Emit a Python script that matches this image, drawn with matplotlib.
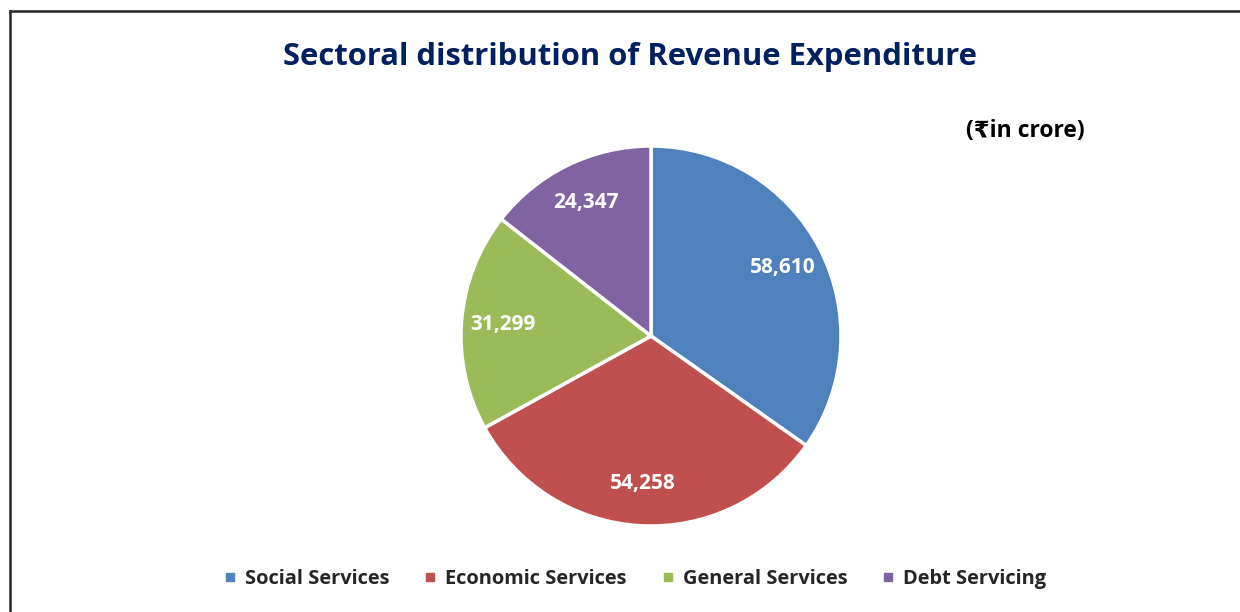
import matplotlib
matplotlib.use("Agg")
import matplotlib.pyplot as plt
from matplotlib.lines import Line2D
import numpy as np

sectors = ["Social Services", "Economic Services", "General Services", "Debt Servicing"]
spend = [58610, 54258, 31299, 24347]
colors = ["#4F81BD", "#C0504D", "#9BBB59", "#8064A2"]

plt.rcParams['font.family'] = ['Open Sans', 'DejaVu Sans']

fig = plt.figure(figsize=(12.4, 6.12), dpi=100)
fig.patch.set_facecolor("white")

# frame lines along the top and left edges
fig.add_artist(Line2D([10/1240, 10/1240], [0, 1 - 10.5/612], color="#262626", lw=1.8))
fig.add_artist(Line2D([10/1240, 1], [1 - 10.5/612, 1 - 10.5/612], color="#262626", lw=1.8))

fig.text(630/1240, 1 - 57/612, "Sectoral distribution of Revenue Expenditure",
         ha="center", va="center", fontsize=22.3, fontweight="bold", color="#002060")
fig.text(1025/1240, 1 - 131/612, "(\u20b9in crore)", ha="center", va="center",
         fontsize=16.5, fontweight="bold", color="black")

ax = fig.add_axes([(651 - 190)/1240, (612 - 526)/612, 380/1240, 380/612])
wedges, _ = ax.pie(spend, colors=colors, startangle=90, counterclock=False, radius=1,
                   wedgeprops=dict(edgecolor="white", linewidth=2.5))
ax.set_xlim(-1, 1)
ax.set_ylim(-1, 1)
ax.set_aspect("equal")
ax.axis("off")

for w, v in zip(wedges, spend):
    mid = np.deg2rad((w.theta1 + w.theta2) / 2)
    ax.text(0.78*np.cos(mid), 0.78*np.sin(mid), f"{v:,}", ha="center", va="center",
            fontsize=15, fontweight="bold", color="white")

handles = [Line2D([], [], marker="s", linestyle="none", markersize=5.8,
                  markerfacecolor=c, markeredgecolor=c) for c in colors]
leg = fig.legend(handles, sectors, loc="center", bbox_to_anchor=(635/1240, 1 - 579/612),
                 ncol=4, frameon=False, handlelength=0.6, handletextpad=0.45,
                 columnspacing=1.75, prop=dict(size=14.4, weight="bold"))
for t in leg.get_texts():
    t.set_color("#262626")

fig.savefig("out.png", dpi=100)
